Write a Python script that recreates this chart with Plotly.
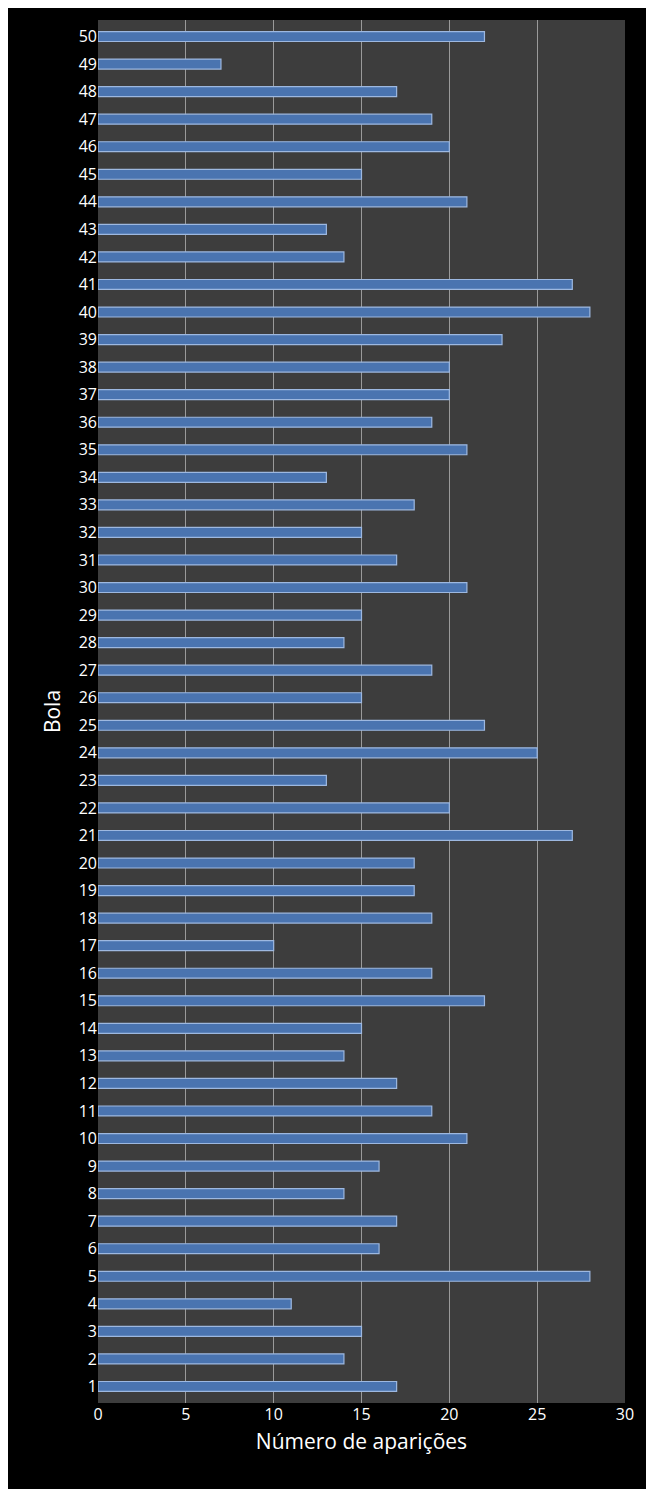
import plotly.graph_objects as go

bolas = list(range(1, 51))
aparicoes = [17, 14, 15, 11, 28, 16, 17, 14, 16, 21,
             19, 17, 14, 15, 22, 19, 10, 19, 18, 18,
             27, 20, 13, 25, 22, 15, 19, 14, 15, 21,
             17, 15, 18, 13, 21, 19, 20, 20, 23, 28,
             27, 14, 13, 21, 15, 20, 19, 17, 7, 22]
x_ticks = [0, 5, 10, 15, 20, 25, 30]

fig = go.Figure(go.Bar(
    x=aparicoes, y=bolas, orientation="h",
    marker=dict(color="#4a74b0", line=dict(color="#9db8e0", width=1.2)),
    width=0.36,
))
fig.update_layout(
    width=638, height=1481,
    paper_bgcolor="black", plot_bgcolor="#3d3d3d",
    margin=dict(l=90, r=19, t=12, b=86),
    font=dict(family="Open Sans, Liberation Sans, sans-serif", color="white", size=16),
    showlegend=False,
)
fig.update_xaxes(range=[0, 30], tickvals=x_ticks, showgrid=True, gridcolor="#9a9a9a",
                 gridwidth=1, zeroline=False, ticks="", tickfont=dict(size=16),
                 title=dict(text="Número de aparições", font=dict(size=21), standoff=10))
fig.update_yaxes(range=[0.4, 50.6], tickvals=bolas, showgrid=False, zeroline=False,
                 tickfont=dict(size=16), ticks="", ticklen=0,
                 title=dict(text="Bola", font=dict(size=21), standoff=12))
fig.write_html("out.html")
